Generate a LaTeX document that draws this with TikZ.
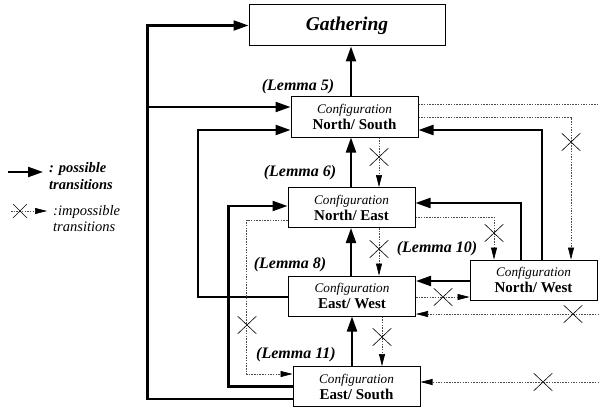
\documentclass[tikz,border=0pt]{standalone}
\usepackage{fontspec}
\setmainfont{Liberation Serif}
\usetikzlibrary{arrows.meta,shapes.misc,positioning}

\tikzset{
  config/.style={draw, line width=1pt, minimum width=127pt, minimum height=40pt,
    inner sep=0pt, align=center, font=\fontsize{15}{16}\selectfont\bfseries},
  lemma/.style={inner sep=0pt, font=\fontsize{16}{18}\selectfont\bfseries\itshape},
  go/.style={line width=2.2pt, -{Triangle[length=15pt,width=10pt]}},
  nogo/.style={line width=0.6pt, black!70, dash pattern=on 1.5pt off 1.2pt,
    -{Triangle[length=12pt,width=6pt,color=black]}},
  nogoline/.style={line width=0.6pt, black!70, dash pattern=on 1.5pt off 1.2pt},
  xmark/.style={cross out, draw=black, solid, line width=0.6pt,
    minimum width=18pt, minimum height=17pt, inner sep=0pt}
}

\begin{document}
\begin{tikzpicture}[x=1pt, y=-1pt]
    \useasboundingbox (0,0) rectangle (599,409);

    % Define nodes
    \node[draw, line width=1pt, minimum width=196pt, minimum height=41pt,
      font=\fontsize{19.5}{22}\selectfont\bfseries\itshape] (gather) at (347,25.5) {Gathering};
    \node[config] (ns) at (354.5,117) {{\fontsize{13.2}{14}\selectfont\mdseries\itshape Configuration}\\North/ South};
    \node[config] (ne) at (351.5,207.5) {{\fontsize{13.2}{14}\selectfont\mdseries\itshape Configuration}\\North/ East};
    \node[config] (ew) at (352,296) {{\fontsize{13.2}{14}\selectfont\mdseries\itshape Configuration}\\East/ West};
    \node[config] (es) at (356.5,386.5) {{\fontsize{13.2}{14}\selectfont\mdseries\itshape Configuration}\\East/ South};
    \node[config] (nw) at (533.5,280) {{\fontsize{13.2}{14}\selectfont\mdseries\itshape Configuration}\\North/ West};

    \node[lemma] (l5) at (298,87) {(Lemma 5)};
    \node[lemma] (l6) at (300,173) {(Lemma 6)};
    \node[lemma] (l8) at (290,265) {(Lemma 8)};
    \node[lemma] (l10) at (437,248.5) {(Lemma 10)};
    \node[lemma] (l11) at (296,355) {(Lemma 11)};

    % legend
    \coordinate (lgA) at (8,172);
    \coordinate (lgB) at (43,172);
    \coordinate (lgC) at (11,211);
    \coordinate (lgD) at (47,211);
    \node[anchor=west, align=left, inner sep=0pt,
      font=\fontsize{14.5}{17}\selectfont\bfseries\itshape] (lgGo) at (49,176) {: possible\\transitions};
    \node[anchor=west, align=left, inner sep=0pt,
      font=\fontsize{14.5}{15.5}\selectfont\itshape] (lgNoGo) at (53,218.5) {:impossible\\transitions};
    \draw[go] (lgA) -- (lgB);
    \draw[nogo] (lgC) -- (lgD);
    \node[xmark, minimum width=13pt, minimum height=13pt] (x0) at (20,211) {};

    % free ends at the right border
    \coordinate (cutNS) at (599,104);
    \coordinate (cutEW) at (599,314);
    \coordinate (cutES) at (599,382);

    % Connect nodes
    \draw[go] ([xshift=-3.5pt]ns.north) -- ([xshift=4pt]gather.south);
    \draw[go] ([xshift=-0.5pt]ne.north) -- ([xshift=-3.5pt]ns.south);
    \draw[go] ([xshift=-1pt]ew.north) -- ([xshift=-0.5pt]ne.south);
    \draw[go] ([xshift=-4.5pt]es.north) -- (ew.south);

    \draw[go] ([yshift=-12.5pt]es.west) -- ++(-145,0) |- (gather.west);
    \coordinate (jNS) at ([xshift=-143pt,yshift=10pt]ns.west);
    \draw[go] (jNS) -- ([yshift=10pt]ns.west);
    \draw[go] ([yshift=-1pt]ew.west) -- ++(-90,0) |- ([yshift=-13pt]ns.west);
    \draw[go] (es.west) -- ++(-64,0) |- ([yshift=1.5pt]ne.west);
    \draw[nogo] ([yshift=-12.5pt]ne.west) -- ++(-41,0) |- ([yshift=12.5pt]es.west);

    \draw[nogo] ([xshift=24.5pt]ns.south) -- ([xshift=27.5pt]ne.north);
    \draw[nogo] ([xshift=27.5pt]ne.south) -- ([xshift=27pt]ew.north);
    \draw[nogo] ([xshift=30pt]ew.south) -- ([xshift=25.5pt]es.north);

    \draw[nogoline] ([yshift=13pt]ns.east) -- (cutNS);
    \draw[nogo] (ns.east) -| ([xshift=37.5pt]nw.north);
    \draw[go] ([xshift=8.5pt]nw.north) |- ([yshift=-13pt]ns.east);
    \draw[go] ([xshift=-12.5pt]nw.north) |- ([yshift=4.5pt]ne.east);
    \draw[nogo] ([yshift=-9.5pt]ne.east) -| ([xshift=-39.5pt]nw.north);
    \draw[go] ([yshift=-1pt]nw.west) -- ([yshift=15pt]ew.east);
    \draw[nogo] ([yshift=-1pt]ew.east) -- ([yshift=-17pt]nw.west);
    \draw[nogo] (cutEW) -- ([yshift=-18pt]ew.east);
    \draw[nogo] (cutES) -- ([yshift=4.5pt]es.east);

    % crosses
    \node[xmark] (x1) at (247,325) {};
    \node[xmark] (x2) at (379,157) {};
    \node[xmark] (x3) at (379,249) {};
    \node[xmark] (x4) at (382,337) {};
    \node[xmark] (x5) at (571,142) {};
    \node[xmark] (x6) at (494,233) {};
    \node[xmark] (x7) at (443,297) {};
    \node[xmark] (x8) at (573,314) {};
    \node[xmark] (x9) at (543,382) {};
\end{tikzpicture}
\end{document}
